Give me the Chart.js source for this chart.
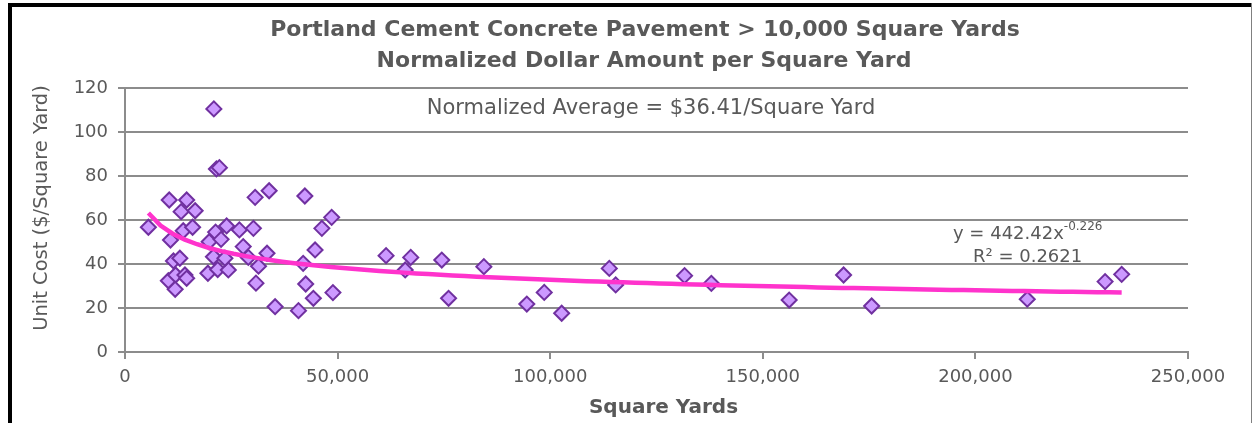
<!DOCTYPE html>
<html>
<head>
<meta charset="utf-8">
<title>PCC Pavement Unit Cost</title>
<script src="https://cdn.jsdelivr.net/npm/chart.js@4.4.1/dist/chart.umd.min.js"></script>
<style>
  html, body { margin: 0; padding: 0; background: #fff; }
  #wrap { position: relative; width: 1255px; height: 423px; }
</style>
</head>
<body>
<div id="wrap"><canvas id="chart"></canvas></div>
<script>
// Contract quantity (square yards) and normalized unit cost ($/SY), one entry per project
const squareYards = [
  5500, 20900, 21500, 22200, 10400, 14500, 13200, 16500, 13700, 15900,
  10700, 11400, 12900, 10200, 11900, 14100, 14500, 11800, 19500, 21800,
  24300, 21300, 23900, 26900, 19800, 22600, 27800, 20800, 23500, 29000,
  30200, 30600, 33900, 33400, 31400, 30800, 35300, 40800, 41900, 42300,
  42500, 44300, 44700, 46300, 48600, 48900, 61400, 67200, 65900, 74500,
  84400, 76100, 94500, 98600, 102700, 113900, 115400, 131600, 137900, 156200,
  169000, 175600, 212200, 230500, 234400
]
const unitCost = [
  56.7, 110.5, 83.2, 83.8, 69.1, 69.1, 63.8, 64.2, 55.1, 56.7,
  50.9, 41.4, 42.6, 32.4, 35.0, 35.0, 33.5, 28.5, 35.8, 37.5,
  37.3, 54.5, 57.3, 55.5, 50.1, 51.2, 47.9, 43.3, 42.6, 43.0,
  56.2, 70.3, 73.3, 44.9, 39.0, 31.3, 20.6, 18.8, 40.3, 70.9,
  30.9, 24.4, 46.4, 56.2, 61.2, 27.0, 43.8, 43.0, 37.3, 41.8,
  38.8, 24.4, 21.8, 27.1, 17.6, 38.0, 30.5, 34.7, 31.2, 23.6,
  35.0, 20.9, 24.0, 32.0, 35.3
]

// Axis ranges and tick steps
const xAxisMax = 250000
const xAxisStep = 50000
const yAxisMax = 120
const yAxisStep = 20

// Power trendline y = a * x^b fitted over the data range
const trendCoef = 442.42
const trendExp = -0.226
const trendR2 = 0.2621
const normalizedAverage = 36.41

const titleLines = [
  'Portland Cement Concrete Pavement > 10,000 Square Yards',
  'Normalized Dollar Amount per Square Yard',
]

const TEXT_COLOR = '#595959'
const GRID_COLOR = '#8c8c8c'
const FONT = '"DejaVu Sans", Verdana, sans-serif'

function buildTrend() {
  const xs = squareYards
  const lo = Math.min(...xs)
  const hi = Math.max(...xs)
  const pts = []
  const n = 80
  for (let i = 0; i <= n; i++) {
    const x = lo + (hi - lo) * i / n
    pts.push({ x: x, y: trendCoef * Math.pow(x, trendExp) })
  }
  return pts
}

const scatterPoints = squareYards.map((x, i) => ({ x: x, y: unitCost[i] }))

// Frame, titles and the text annotations drawn straight onto the canvas
const decorations = {
  id: 'decorations',
  beforeDraw(chart) {
    const ctx = chart.ctx
    ctx.save()
    ctx.fillStyle = '#fff'
    ctx.fillRect(0, 0, chart.width, chart.height)
    ctx.restore()
  },
  afterDraw(chart) {
    const ctx = chart.ctx
    const area = chart.chartArea
    const cx = (area.left + area.right) / 2
    ctx.save()

    // outer frame
    ctx.fillStyle = '#000'
    ctx.fillRect(8, 3, 4, chart.height - 3)
    ctx.fillRect(8, 3, 1244, 4)
    ctx.fillStyle = '#808080'
    ctx.fillRect(1251, 3, 1, chart.height - 3)

    ctx.fillStyle = TEXT_COLOR
    ctx.textAlign = 'center'
    ctx.textBaseline = 'middle'

    ctx.font = 'bold 22px ' + FONT
    ctx.fillText(titleLines[0], 645, 30)
    ctx.fillText(titleLines[1], 644, 61)

    // axis titles
    ctx.font = 'bold 20px ' + FONT
    ctx.fillText('Square Yards', cx + 7, 408)

    ctx.save()
    ctx.translate(42, (area.top + area.bottom) / 2 - 12)
    ctx.rotate(-Math.PI / 2)
    ctx.font = '19.5px ' + FONT
    ctx.fillText('Unit Cost ($/Square Yard)', 0, 0)
    ctx.restore()

    // normalized average note
    ctx.font = '21px ' + FONT
    ctx.fillText('Normalized Average = $' + normalizedAverage.toFixed(2) + '/Square Yard', 651, 109)

    // trendline equation
    ctx.textAlign = 'left'
    ctx.font = '18px ' + FONT
    const base = 'y = ' + trendCoef + 'x'
    ctx.fillText(base, 953, 234)
    const w = ctx.measureText(base).width
    ctx.font = '12px ' + FONT
    ctx.fillText(String(trendExp), 953 + w, 227)
    ctx.font = '18px ' + FONT
    ctx.fillText('R\u00b2 = ' + trendR2, 973, 257)

    ctx.restore()
  },
}

const ctx = document.getElementById('chart').getContext('2d')

new Chart(ctx, {
  type: 'scatter',
  data: {
    datasets: [
      {
        type: 'line',
        data: buildTrend(),
        borderColor: '#ff33cc',
        borderWidth: 4.5,
        pointRadius: 0,
        fill: false,
        tension: 0,
        order: 0,
      },
      {
        data: scatterPoints,
        pointStyle: 'rectRot',
        pointRadius: 7.5,
        pointHoverRadius: 7.5,
        backgroundColor: '#cc99ff',
        borderColor: '#7030a0',
        borderWidth: 2,
        order: 1,
      },
    ],
  },
  options: {
    responsive: true,
    maintainAspectRatio: false,
    animation: false,
    layout: { padding: { left: 0, right: 67, top: 88, bottom: 0 } },
    plugins: {
      legend: { display: false },
      tooltip: { enabled: false },
      title: { display: false },
    },
    scales: {
      x: {
        type: 'linear',
        min: 0,
        max: xAxisMax,
        afterFit(scale) { scale.height = 71 },
        border: { color: GRID_COLOR, width: 2 },
        grid: { drawOnChartArea: false, color: GRID_COLOR, lineWidth: 2, tickLength: 7 },
        ticks: {
          stepSize: xAxisStep,
          color: TEXT_COLOR,
          padding: 8,
          maxRotation: 0,
          font: { family: FONT, size: 18 },
          callback: (v) => v.toLocaleString('en-US'),
        },
      },
      y: {
        min: 0,
        max: yAxisMax,
        afterFit(scale) { scale.width = 125 },
        border: { color: GRID_COLOR, width: 2 },
        grid: { color: GRID_COLOR, lineWidth: 2, tickLength: 7 },
        ticks: {
          stepSize: yAxisStep,
          color: TEXT_COLOR,
          padding: 10,
          font: { family: FONT, size: 18 },
        },
      },
    },
  },
  plugins: [decorations],
})
</script>
</body>
</html>
